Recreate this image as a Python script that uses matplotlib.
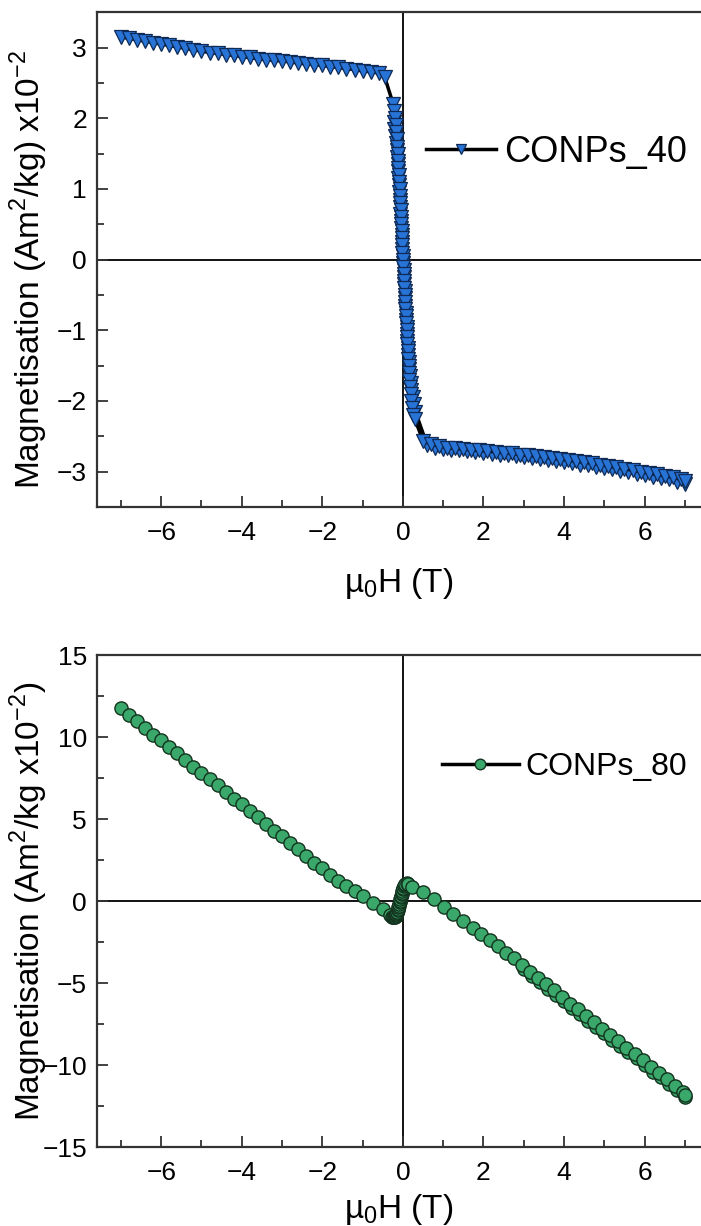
import matplotlib
matplotlib.use('Agg')
import matplotlib.pyplot as plt
from matplotlib.ticker import MultipleLocator

plt.rcParams['font.family'] = ['Liberation Sans', 'DejaVu Sans']
plt.rcParams['mathtext.fontset'] = 'custom'
plt.rcParams['mathtext.rm'] = 'Liberation Sans'

# --- CONPs_40 (top panel), field in T, magnetisation in Am2/kg x1e-2 ---
h40 = [-7.0, -6.8, -6.6, -6.4, -6.2, -6.0, -5.8, -5.6, -5.4, -5.2, -5.0,
       -4.8, -4.6, -4.4, -4.2, -4.0, -3.8, -3.6, -3.4, -3.2, -3.0, -2.8,
       -2.6, -2.4, -2.2, -2.0, -1.8, -1.6, -1.4, -1.2, -1.0, -0.8, -0.6,
       -0.45,
       -0.24, -0.22, -0.20, -0.18, -0.16, -0.15, -0.14, -0.13, -0.12, -0.11,
       -0.10, -0.09, -0.08, -0.07, -0.06, -0.05, -0.045, -0.04, -0.03, -0.025,
       -0.015, -0.01, 0.0, 0.01, 0.02, 0.03, 0.035, 0.045, 0.05, 0.06,
       0.07, 0.08, 0.09, 0.10, 0.11, 0.12, 0.13, 0.14, 0.15, 0.16,
       0.17, 0.19, 0.21, 0.23, 0.26, 0.29,
       0.5, 0.7, 0.9, 1.1, 1.3, 1.5, 1.7, 1.9, 2.1, 2.3, 2.5, 2.7, 2.9,
       3.1, 3.3, 3.5, 3.7, 3.9, 4.1, 4.3, 4.5, 4.7, 4.9, 5.1, 5.3, 5.5,
       5.7, 5.9, 6.1, 6.3, 6.5, 6.7, 6.9, 7.0]
m40 = [3.15, 3.13, 3.11, 3.09, 3.07, 3.05, 3.03, 3.01, 2.99, 2.97, 2.95,
       2.93, 2.92, 2.90, 2.89, 2.87, 2.86, 2.84, 2.83, 2.82, 2.81, 2.80,
       2.78, 2.77, 2.76, 2.75, 2.73, 2.72, 2.70, 2.69, 2.67, 2.66, 2.64,
       2.58,
       2.20, 2.10, 2.00, 1.90, 1.80, 1.70, 1.60, 1.50, 1.40, 1.30,
       1.20, 1.10, 1.00, 0.90, 0.80, 0.70, 0.60, 0.50, 0.40, 0.30,
       0.20, 0.10, 0.00, -0.10, -0.20, -0.30, -0.40, -0.50, -0.60, -0.70,
       -0.80, -0.90, -1.00, -1.10, -1.20, -1.30, -1.40, -1.50, -1.60, -1.70,
       -1.80, -1.90, -2.00, -2.10, -2.20, -2.25,
       -2.56, -2.61, -2.64, -2.66, -2.67, -2.68, -2.69, -2.70, -2.71, -2.72,
       -2.73, -2.74, -2.76, -2.77, -2.78, -2.79, -2.81, -2.82, -2.84, -2.85,
       -2.87, -2.88, -2.90, -2.92, -2.94, -2.96, -2.98, -3.00, -3.02, -3.04,
       -3.06, -3.08, -3.11, -3.13]
# return sweep (7 T back through zero), nearly on top of the first one
h40_ret = [7.0, 6.8, 6.6, 6.4, 6.2, 6.0, 5.8, 5.6, 5.4, 5.2, 5.0, 4.8,
           4.6, 4.4, 4.2, 4.0, 3.8, 3.6, 3.4, 3.2, 3.0, 2.8, 2.6, 2.4,
           2.2, 2.0, 1.8, 1.6, 1.4, 1.2, 1.0, 0.8, 0.6,
           0.31, 0.27, 0.24, 0.21, 0.19, 0.17, 0.155, 0.14, 0.13, 0.12,
           0.11, 0.10, 0.09, 0.08, 0.07, 0.06, 0.05, 0.04, 0.035, 0.03,
           0.02, 0.01, 0.0, -0.01, -0.02, -0.03, -0.04, -0.05, -0.06,
           -0.07, -0.08, -0.09, -0.10, -0.11, -0.12, -0.13, -0.14, -0.155,
           -0.17, -0.19, -0.21, -0.23]
m40_ret = [-3.17, -3.14, -3.11, -3.09, -3.07, -3.05, -3.03, -3.01, -2.99,
           -2.97, -2.95, -2.93, -2.91, -2.90, -2.88, -2.87, -2.85, -2.84,
           -2.82, -2.81, -2.80, -2.78, -2.77, -2.76, -2.75, -2.73, -2.72,
           -2.71, -2.70, -2.69, -2.68, -2.66, -2.62,
           -2.15, -2.05, -1.95, -1.85, -1.75, -1.65, -1.55, -1.45, -1.35,
           -1.25, -1.15, -1.05, -0.95, -0.85, -0.75, -0.65, -0.55, -0.45,
           -0.35, -0.25, -0.15, -0.05, 0.05, 0.15, 0.25, 0.35, 0.45, 0.55,
           0.65, 0.75, 0.85, 0.95, 1.05, 1.15, 1.25, 1.35, 1.45, 1.55,
           1.65, 1.75, 1.85, 1.95]

# --- CONPs_80 (bottom panel) ---
h80 = [-7.0, -6.8, -6.6, -6.4, -6.2, -6.0, -5.8, -5.6, -5.4, -5.2, -5.0,
       -4.8, -4.6, -4.4, -4.2, -4.0, -3.8, -3.6, -3.4, -3.2, -3.0, -2.8,
       -2.6, -2.4, -2.2, -2.0, -1.8, -1.6, -1.4, -1.2, -1.0, -0.75, -0.5,
       -0.32, -0.28, -0.25, -0.22, -0.2, -0.18, -0.17, -0.16, -0.15, -0.14,
       -0.13, -0.12, -0.11, -0.10, -0.09, -0.08, -0.07, -0.06, -0.05, -0.04,
       -0.03, -0.02, -0.01, 0.0, 0.01, 0.02, 0.04, 0.06, 0.09, 0.12,
       0.22, 0.5, 0.77, 1.02, 1.25, 1.5, 1.75, 1.95, 2.15, 2.35, 2.55,
       2.75, 2.95, 3.15, 3.35, 3.55, 3.75, 3.95, 4.15, 4.35, 4.55, 4.75,
       4.95, 5.15, 5.35, 5.55, 5.75, 5.95, 6.15, 6.35, 6.55, 6.75, 6.95, 7.0]
m80 = [11.8, 11.35, 10.95, 10.55, 10.15, 9.8, 9.4, 9.0, 8.6, 8.2, 7.8,
       7.45, 7.05, 6.65, 6.25, 5.9, 5.5, 5.1, 4.7, 4.3, 3.95, 3.55,
       3.15, 2.75, 2.35, 2.0, 1.6, 1.25, 0.9, 0.6, 0.3, -0.1, -0.5,
       -0.85, -0.95, -1.0, -1.0, -0.97, -0.92, -0.86, -0.8, -0.72, -0.64,
       -0.55, -0.46, -0.37, -0.28, -0.18, -0.08, 0.02, 0.12, 0.22, 0.32,
       0.42, 0.52, 0.62, 0.72, 0.82, 0.9, 0.98, 1.05, 1.08, 1.05,
       0.85, 0.55, 0.1, -0.35, -0.8, -1.2, -1.65, -2.0, -2.4, -2.75, -3.15,
       -3.5, -3.9, -4.3, -4.7, -5.05, -5.45, -5.85, -6.25, -6.6, -7.0, -7.4,
       -7.8, -8.15, -8.55, -8.95, -9.35, -9.7, -10.1, -10.5, -10.85, -11.25,
       -11.65, -11.8]
# return branch at high field (sits slightly below the first one)
h80_ret = [7.0, 6.8, 6.6, 6.4, 6.2, 6.0, 5.8, 5.6, 5.4, 5.2, 5.0, 4.8,
           4.6, 4.4, 4.2, 4.0, 3.8, 3.6, 3.4, 3.2, 3.0]
m80_ret = [-11.95, -11.55, -11.15, -10.75, -10.4, -10.0, -9.6, -9.2, -8.85,
           -8.45, -8.05, -7.65, -7.3, -6.9, -6.5, -6.1, -5.75, -5.35, -4.95,
           -4.55, -4.15]


def style_axes(ax, ymaj, ymin, ylim, xlabelpad):
    ax.set_xlim(-7.6, 7.4)
    ax.set_ylim(*ylim)
    ax.axhline(0, color='black', lw=1.3, zorder=1)
    ax.axvline(0, color='black', lw=1.3, zorder=1)
    ax.spines['right'].set_visible(False)
    for s in ['top', 'left', 'bottom']:
        ax.spines[s].set_linewidth(1.6)
        ax.spines[s].set_color('#333333')
    ax.xaxis.set_major_locator(MultipleLocator(2))
    ax.xaxis.set_minor_locator(MultipleLocator(1))
    ax.yaxis.set_major_locator(MultipleLocator(ymaj))
    ax.yaxis.set_minor_locator(MultipleLocator(ymin))
    ax.tick_params(which='both', direction='in', top=False, right=False,
                   labelsize=19, width=1.3, color='#333333')
    ax.tick_params(which='major', length=8, pad=7)
    ax.tick_params(axis='x', which='major', pad=10)
    ax.tick_params(which='minor', length=5)
    ax.set_xlabel('µ$_\\mathregular{0}$H (T)', fontsize=24, labelpad=xlabelpad)


fig = plt.figure(figsize=(7.01, 12.26), dpi=100)
ax1 = fig.add_axes([0.138, 0.5865, 0.862, 0.4035])
ax2 = fig.add_axes([0.138, 0.0644, 0.862, 0.4013])

tri = dict(color='black', lw=2.5, marker='v', ms=9.5, mfc='#2873d6',
           mec='#0e2a55', mew=0.9, zorder=3)
ax1.plot(h40_ret, m40_ret, **tri)
ax1.plot(h40, m40, label='CONPs_40', **tri)
style_axes(ax1, 1, 0.5, (-3.5, 3.5), 15)
ax1.set_ylabel('Magnetisation (Am$^\\mathregular{2}$/kg) x10$^\\mathregular{-2}$',
               fontsize=24)
ax1.yaxis.set_label_coords(-0.078, 0.48)
ax1.legend(loc='center left', bbox_to_anchor=(0.515, 0.717),
           frameon=False, fontsize=26, handlelength=1.95,
           handletextpad=0.2, borderpad=0, markerscale=0.75)

circ = dict(color='black', lw=2.5, marker='o', ms=9.5, mfc='#3aa86a',
            mec='#14331f', mew=1.0, zorder=3)
ax2.plot(h80_ret, m80_ret, **circ)
ax2.plot(h80, m80, label='CONPs_80', **circ)
style_axes(ax2, 5, 2.5, (-15, 15), 5)
ax2.set_ylabel('Magnetisation (Am$^\\mathregular{2}$/kg x10$^\\mathregular{-2}$)',
               fontsize=24)
ax2.yaxis.set_label_coords(-0.078, 0.5)
ax2.legend(loc='center left', bbox_to_anchor=(0.545, 0.772),
           frameon=False, fontsize=23, handlelength=2.4,
           handletextpad=0.2, borderpad=0, markerscale=0.8)

fig.savefig('out.png', dpi=100)
